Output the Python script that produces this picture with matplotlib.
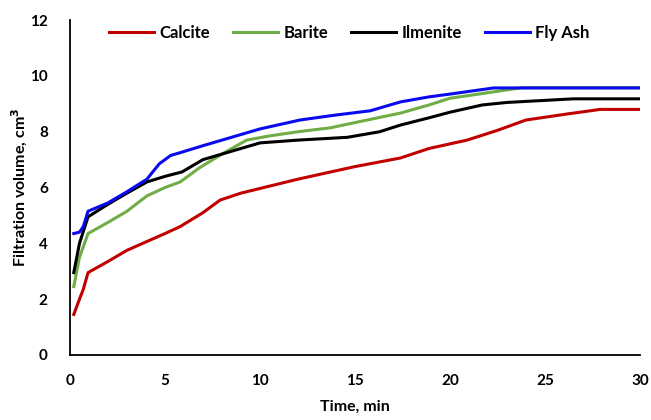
import numpy as np
import matplotlib.pyplot as plt

plt.rcParams['font.family'] = ['Lato', 'DejaVu Sans']
plt.rcParams['font.weight'] = 'bold'

# =============================================
#                    DATOS
# =============================================
t_calcite = [0.2, 0.5, 0.7, 0.95, 2, 3, 4, 5, 5.8, 7, 7.9, 9, 10.2, 12, 15, 17.4, 18.9, 20.9, 22.5, 24, 26, 27.9, 30]
v_calcite = [1.45, 2.0, 2.35, 2.95, 3.35, 3.75, 4.05, 4.35, 4.6, 5.1, 5.55, 5.8, 6.0, 6.3, 6.75, 7.06, 7.4, 7.7, 8.05, 8.42, 8.62, 8.8, 8.8]

t_barite = [0.2, 0.5, 0.95, 2, 3, 4.05, 5, 5.8, 6.8, 8, 9.3, 10.5, 12, 13.7, 15.5, 17.4, 18.9, 20, 22, 23.8, 30]
v_barite = [2.45, 3.5, 4.35, 4.75, 5.15, 5.7, 6.0, 6.2, 6.7, 7.2, 7.7, 7.85, 8.0, 8.14, 8.4, 8.67, 8.96, 9.2, 9.4, 9.58, 9.58]

t_ilmenite = [0.2, 0.5, 0.95, 2, 3, 4.05, 5, 5.9, 7.0, 8.5, 10, 12, 14.6, 16.3, 17.4, 18.9, 20, 21.7, 23, 26.5, 30]
v_ilmenite = [2.95, 4.0, 4.95, 5.4, 5.8, 6.2, 6.4, 6.56, 7.0, 7.3, 7.6, 7.7, 7.8, 8.0, 8.24, 8.5, 8.7, 8.96, 9.05, 9.18, 9.18]

t_flyash = [0.2, 0.5, 0.7, 0.95, 2, 3, 4.05, 4.7, 5.3, 5.8, 7, 8.5, 10, 12.1, 14, 15.8, 17.4, 18.9, 20, 22.3, 30]
v_flyash = [4.35, 4.4, 4.6, 5.15, 5.45, 5.85, 6.3, 6.85, 7.15, 7.25, 7.5, 7.8, 8.1, 8.42, 8.6, 8.75, 9.07, 9.25, 9.35, 9.57, 9.57]

series = [
    ('Calcite', t_calcite, v_calcite, '#C00000'),
    ('Barite', t_barite, v_barite, '#70AD47'),
    ('Ilmenite', t_ilmenite, v_ilmenite, '#000000'),
    ('Fly Ash', t_flyash, v_flyash, '#0A0AF0'),
]

# =============================================
#                   GRÁFICO
# =============================================
fig = plt.figure(figsize=(6.51, 4.2), dpi=100)
ax = fig.add_axes([0.1075, 0.155, 0.8755, 0.797])

for name, t, v, c in series:
    ax.plot(t, v, color=c, lw=2.2, label=name, solid_joinstyle='round')

ax.set_xlim(0, 30)
ax.set_ylim(0, 12)
ax.set_xticks(np.arange(0, 31, 5))
ax.set_yticks(np.arange(0, 13, 2))
ax.tick_params(axis='x', length=0, labelsize=11, pad=14)
ax.tick_params(axis='y', length=0, labelsize=11, pad=16)
for lbl in ax.get_xticklabels() + ax.get_yticklabels():
    lbl.set_fontweight('bold')

for s in ['top', 'right']:
    ax.spines[s].set_visible(False)
for s in ['left', 'bottom']:
    ax.spines[s].set_linewidth(1.3)

ax.set_xlabel('Time, min', fontsize=11.5, fontweight='bold', labelpad=8)
ax.set_ylabel('Filtration volume, cm$^\\mathbf{3}$', fontsize=11.5, fontweight='bold', labelpad=0)

ax.legend(loc='upper center', bbox_to_anchor=(0.49, 1.03), ncol=4, frameon=False,
          handlelength=2.7, columnspacing=1.4, handletextpad=0.3,
          prop={'weight': 'bold', 'size': 12})

fig.savefig('out.png', dpi=100)
